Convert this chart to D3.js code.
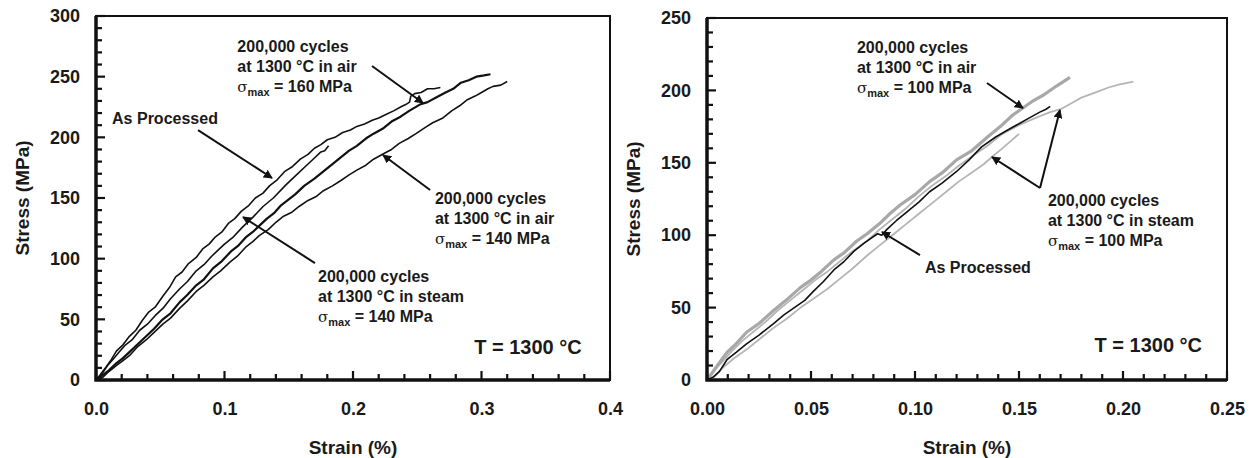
<!DOCTYPE html>
<html>
<head>
<meta charset="utf-8">
<script src="https://cdn.jsdelivr.net/npm/d3@7"></script>
<style>
  body { margin: 0; background: #fff; }
  text { font-family: "Liberation Sans", Arial, sans-serif; font-weight: bold; fill: #1a1a1a; }
</style>
</head>
<body>
<div id="chart"></div>
<script>
//Left panel curves, [strain %, stress MPa]
var steam140 = [[0,0],[0.003,4],[0.008,11],[0.012,17],[0.016,24],[0.021,29],[0.026,36],[0.031,41],[0.036,49],[0.041,56],[0.046,60],[0.052,69],[0.057,76],[0.062,85],[0.067,89],[0.072,96],[0.078,101],[0.083,108],[0.088,112],[0.093,118],[0.098,122],[0.103,129],[0.108,133],[0.113,139],[0.119,144],[0.124,150],[0.13,154],[0.135,160],[0.141,165],[0.147,172],[0.153,176],[0.159,182],[0.165,186],[0.17,191],[0.175,194],[0.18,198],[0.186,200],[0.192,204],[0.198,206],[0.203,209],[0.209,211],[0.215,214],[0.22,216],[0.226,219],[0.232,222],[0.237,225],[0.241,227],[0.244,229],[0.245,234],[0.248,236],[0.253,237],[0.258,240],[0.263,240],[0.268,241]];
var asProcessedL = [[0,0],[0.004,4],[0.009,12],[0.014,18],[0.018,23],[0.023,29],[0.028,33],[0.034,41],[0.04,46],[0.046,53],[0.052,59],[0.058,67],[0.065,75],[0.071,81],[0.078,90],[0.084,95],[0.09,102],[0.095,107],[0.1,112],[0.107,118],[0.114,126],[0.122,134],[0.13,143],[0.138,150],[0.148,161],[0.156,169],[0.165,178],[0.17,183],[0.175,188],[0.178,189],[0.181,193]];
var air160 = [[0,0],[0.004,3],[0.01,8],[0.016,14],[0.021,18],[0.026,23],[0.032,29],[0.038,35],[0.045,42],[0.052,50],[0.058,55],[0.065,64],[0.071,70],[0.078,78],[0.084,83],[0.091,92],[0.098,98],[0.105,106],[0.111,111],[0.117,118],[0.122,122],[0.127,127],[0.133,133],[0.139,138],[0.144,144],[0.149,148],[0.155,153],[0.162,160],[0.17,166],[0.177,172],[0.184,178],[0.19,183],[0.197,189],[0.203,193],[0.21,199],[0.216,203],[0.223,207],[0.23,213],[0.237,217],[0.244,222],[0.252,227],[0.258,229],[0.265,233],[0.272,237],[0.278,240],[0.284,245],[0.29,247],[0.296,250],[0.302,251],[0.307,252]];
var air140 = [[0,0],[0.005,2],[0.01,7],[0.016,12],[0.021,16],[0.026,20],[0.032,27],[0.039,33],[0.045,39],[0.052,46],[0.058,51],[0.065,59],[0.071,65],[0.078,73],[0.084,78],[0.091,85],[0.097,90],[0.104,97],[0.11,102],[0.117,110],[0.122,114],[0.127,119],[0.134,124],[0.14,130],[0.146,135],[0.152,138],[0.158,143],[0.165,148],[0.171,151],[0.177,156],[0.184,160],[0.19,164],[0.197,169],[0.203,173],[0.21,177],[0.216,182],[0.223,186],[0.23,190],[0.236,195],[0.243,199],[0.249,203],[0.256,208],[0.262,212],[0.27,216],[0.277,222],[0.283,226],[0.289,231],[0.295,234],[0.3,237],[0.305,240],[0.309,242],[0.315,243],[0.32,246]];

//Right panel curves
var air100 = [[0,0],[0.002,4],[0.005,10],[0.0096,19],[0.014,25],[0.019,33],[0.025,39],[0.032,48],[0.038,55],[0.045,64],[0.05,69],[0.055,75],[0.061,83],[0.066,88],[0.072,96],[0.077,101],[0.083,108],[0.088,115],[0.093,121],[0.1,128],[0.107,137],[0.113,143],[0.12,152],[0.127,158],[0.135,168],[0.141,175],[0.147,183],[0.152,188],[0.157,193],[0.162,197],[0.168,203],[0.1745,209]];
var steam100a = [[0,0],[0.003,6],[0.007,12],[0.012,20],[0.017,27],[0.022,33],[0.028,40],[0.034,48],[0.04,55],[0.046,62],[0.052,69],[0.058,75],[0.064,82],[0.07,89],[0.077,96],[0.083,104],[0.09,112],[0.096,119],[0.102,127],[0.108,134],[0.115,141],[0.121,148],[0.128,155],[0.135,162],[0.142,170],[0.15,176],[0.158,181],[0.165,185],[0.17,187],[0.175,191],[0.18,195],[0.1875,199],[0.193,202],[0.198,204],[0.205,206]];
var steam100b = [[0,0],[0.004,3],[0.008,9],[0.013,15],[0.019,21],[0.025,28],[0.032,36],[0.038,42],[0.045,50],[0.052,57],[0.058,63],[0.064,70],[0.07,77],[0.077,86],[0.083,93],[0.09,101],[0.096,108],[0.102,115],[0.109,123],[0.115,130],[0.121,137],[0.127,143],[0.133,149],[0.137,154],[0.142,160],[0.146,165],[0.15,170]];
var asProcessedR = [[0,0],[0.003,2],[0.006,6],[0.0096,14],[0.014,19],[0.019,25],[0.025,31],[0.032,39],[0.037,45],[0.042,50],[0.047,55],[0.051,61],[0.056,68],[0.061,76],[0.066,82],[0.0707,89],[0.076,95],[0.082,101],[0.084,100],[0.0865,104],[0.091,110],[0.096,116],[0.102,123],[0.107,130],[0.113,136],[0.12,144],[0.126,152],[0.132,161],[0.139,168],[0.145,173],[0.15,177],[0.155,181],[0.16,185],[0.163,187],[0.165,189]];

//Tick values
var leftXTicks = [0, 0.1, 0.2, 0.3, 0.4];
var leftYTicks = [0, 50, 100, 150, 200, 250, 300];
var rightXTicks = [0, 0.05, 0.10, 0.15, 0.20, 0.25];
var rightYTicks = [0, 50, 100, 150, 200, 250];

var svg = d3
  .select("#chart")
  .append("svg")
  .attr("width", 1254)
  .attr("height", 458);

//Arrow head used for all the call-outs
svg.append("defs")
  .append("marker")
  .attr("id", "head")
  .attr("viewBox", "0 0 10 10")
  .attr("refX", 9)
  .attr("refY", 5)
  .attr("markerWidth", 9)
  .attr("markerHeight", 9)
  .attr("markerUnits", "userSpaceOnUse")
  .attr("orient", "auto")
  .append("path")
  .attr("d", "M0,0 L10,5 L0,10 z")
  .attr("fill", "#111");

function range(a, b, step) {
	var out = [];
	var n = Math.round((b - a) / step);
	for (var i = 0; i <= n; i++) out.push(+(a + i * step).toFixed(4));
	return out;
}

function drawPanel(p) {
	var g = svg.append("g");
	var x = d3.scaleLinear().domain([0, p.xMax]).range([p.left, p.right]);
	var y = d3.scaleLinear().domain([0, p.yMax]).range([p.bottom, p.top]);

	//curves go under the frame and ticks
	var line = d3.line().x(function(d) { return x(d[0]); }).y(function(d) { return y(d[1]); });
	p.series.forEach(function(s) {
		g.append("path")
		  .datum(s.data)
		  .attr("d", line)
		  .attr("fill", "none")
		  .attr("stroke", s.color)
		  .attr("stroke-width", s.width)
		  .attr("stroke-linejoin", "round");
	});

	//frame
	g.append("rect")
	  .attr("x", p.left).attr("y", p.top)
	  .attr("width", p.right - p.left).attr("height", p.bottom - p.top)
	  .attr("fill", "none").attr("stroke", "#111").attr("stroke-width", 2);
	g.append("path")
	  .attr("d", "M" + p.left + "," + p.top + "V" + p.bottom + "H" + p.right)
	  .attr("fill", "none").attr("stroke", "#111").attr("stroke-width", 3.5);

	//inward tick marks, minor every step, major a bit longer
	var xMinor = range(0, p.xMax, p.xMinor);
	var yMinor = range(0, p.yMax, 10);
	g.selectAll("line.xt")
	  .data(xMinor)
	  .join("line")
	  .attr("class", "xt")
	  .attr("x1", function(d) { return x(d); })
	  .attr("x2", function(d) { return x(d); })
	  .attr("y1", p.bottom)
	  .attr("y2", function(d) { return p.xTicks.some(function(t) { return Math.abs(t - d) < 1e-6; }) ? p.bottom - 9 : p.bottom - 6; })
	  .attr("stroke", "#111")
	  .attr("stroke-width", 2.2);
	g.selectAll("line.yt")
	  .data(yMinor)
	  .join("line")
	  .attr("class", "yt")
	  .attr("y1", function(d) { return y(d); })
	  .attr("y2", function(d) { return y(d); })
	  .attr("x1", p.left)
	  .attr("x2", function(d) { return d % 50 === 0 ? p.left + 9 : p.left + 6; })
	  .attr("stroke", "#111")
	  .attr("stroke-width", 2.2);

	//tick labels from the axis generators
	var xAxis = g.append("g")
	  .attr("transform", "translate(0," + p.bottom + ")")
	  .call(d3.axisBottom(x).tickValues(p.xTicks).tickSize(0).tickPadding(22).tickFormat(d3.format(p.xFmt)));
	var yAxis = g.append("g")
	  .attr("transform", "translate(" + p.left + ",0)")
	  .call(d3.axisLeft(y).tickValues(p.yTicks).tickSize(0).tickPadding(16));

	xAxis.select(".domain").remove();
	yAxis.select(".domain").remove();
	xAxis.selectAll("text").attr("font-size", 18).attr("fill", "#1a1a1a");
	yAxis.selectAll("text").attr("font-size", 18).attr("fill", "#1a1a1a");

	//axis titles
	g.append("text")
	  .attr("x", (p.left + p.right) / 2)
	  .attr("y", 454)
	  .attr("text-anchor", "middle")
	  .attr("font-size", 19)
	  .text("Strain (%)");
	g.append("text")
	  .attr("transform", "translate(" + p.yTitleX + "," + (p.top + p.bottom) / 2 + ")rotate(-90)")
	  .attr("text-anchor", "middle")
	  .attr("font-size", 19)
	  .text("Stress (MPa)");

	//call-out labels
	p.notes.forEach(function(n) {
		var t = g.append("text")
		  .attr("x", x(n.at[0]))
		  .attr("y", y(n.at[1]))
		  .attr("font-size", 16);
		n.lines.forEach(function(l, i) {
			var dy = i === 0 ? 0 : 20;
			if (l.indexOf("σ") === 0) {
				t.append("tspan").attr("x", x(n.at[0])).attr("dy", dy)
				  .attr("font-weight", "normal").attr("font-family", "DejaVu Serif, serif").attr("font-size", 15).text("σ");
				t.append("tspan").attr("dy", 4).attr("font-size", 11).text("max");
				t.append("tspan").attr("dy", -4).text(l.slice(1));
			} else {
				t.append("tspan").attr("x", x(n.at[0])).attr("dy", dy).text(l);
			}
		});
		n.arrows.forEach(function(a) {
			g.append("line")
			  .attr("x1", x(a[0][0])).attr("y1", y(a[0][1]))
			  .attr("x2", x(a[1][0])).attr("y2", y(a[1][1]))
			  .attr("stroke", "#111")
			  .attr("stroke-width", 2)
			  .attr("marker-end", "url(#head)");
		});
	});

	g.append("text")
	  .attr("x", x(p.tempAt[0]))
	  .attr("y", y(p.tempAt[1]))
	  .attr("text-anchor", "end")
	  .attr("font-size", 20)
	  .text("T = 1300 °C");
}

drawPanel({
	left: 96, right: 610, top: 16, bottom: 380, yTitleX: 29,
	xMax: 0.4, yMax: 300, xMinor: 0.02, xTicks: leftXTicks, yTicks: leftYTicks, xFmt: ".1f",
	series: [
		{ data: air140, color: "#111", width: 1.6 },
		{ data: air160, color: "#111", width: 2.2 },
		{ data: asProcessedL, color: "#111", width: 1.6 },
		{ data: steam140, color: "#111", width: 1.6 }
	],
	notes: [
		{ at: [0.11, 270], lines: ["200,000 cycles", "at 1300 °C in air", "σ = 160 MPa"], arrows: [[[0.2148, 258.8], [0.2545, 228.3]]] },
		{ at: [0.0125, 211], lines: ["As Processed"], arrows: [[[0.0794, 206], [0.137, 166.5]]] },
		{ at: [0.2638, 145], lines: ["200,000 cycles", "at 1300 °C in air", "σ = 140 MPa"], arrows: [[[0.26, 156.6], [0.2233, 185.4]]] },
		{ at: [0.1728, 80.8], lines: ["200,000 cycles", "at 1300 °C in steam", "σ = 140 MPa"], arrows: [[[0.1704, 96.4], [0.1144, 134.3]]] }
	],
	tempAt: [0.378, 21.4]
});

drawPanel({
	left: 707, right: 1227, top: 18, bottom: 380, yTitleX: 640,
	xMax: 0.25, yMax: 250, xMinor: 0.01, xTicks: rightXTicks, yTicks: rightYTicks, xFmt: ".2f",
	series: [
		{ data: steam100b, color: "#b5b5b5", width: 1.8 },
		{ data: steam100a, color: "#b5b5b5", width: 1.8 },
		{ data: air100, color: "#a8a8a8", width: 3.2 },
		{ data: asProcessedR, color: "#111", width: 1.6 }
	],
	notes: [
		{ at: [0.0721, 225.8], lines: ["200,000 cycles", "at 1300 °C in air", "σ = 100 MPa"], arrows: [[[0.1346, 205.1], [0.1519, 187.8]]] },
		{ at: [0.1639, 120.2], lines: ["200,000 cycles", "at 1300 °C in steam", "σ = 100 MPa"], arrows: [[[0.1601, 132.6], [0.137, 154]], [[0.1601, 132.6], [0.1697, 186.5]]] },
		{ at: [0.1048, 73.9], lines: ["As Processed"], arrows: [[[0.1024, 86.3], [0.0841, 102.2]]] }
	],
	tempAt: [0.238, 19.3]
});
</script>
</body>
</html>
